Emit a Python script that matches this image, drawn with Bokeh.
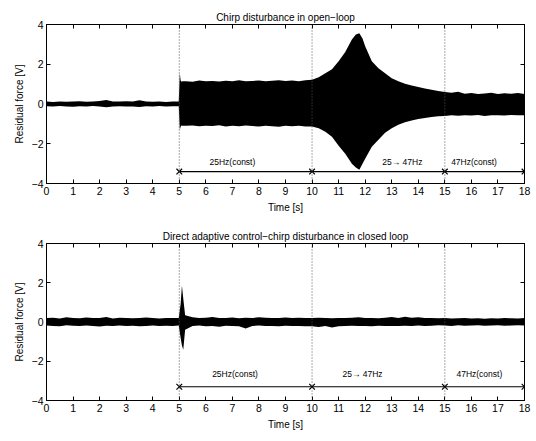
from bokeh.plotting import figure
from bokeh.models import FixedTicker, LinearAxis, Span, Title, Range1d
from bokeh.layouts import column
from bokeh.embed import file_html
from bokeh.resources import INLINE
from bokeh.core.properties import value

FONT = "Liberation Sans"

# ---------------- data ----------------
x_ticks = list(range(0, 19))
y_ticks = [-4, -2, 0, 2, 4]
y_tick_text = {-4: "\u22124", -2: "\u22122", 0: "0", 2: "2", 4: "4"}
phase_bounds = [5, 10, 15, 18]
phase_labels = ["25Hz(const)", "25\u2192 47Hz", "47Hz(const)"]

titles = ["Chirp disturbance in open\u2212loop",
          "Direct adaptive control\u2212chirp disturbance in closed loop"]

# open loop: envelope of the residual force (upper / lower)
t_open = [0.0, 0.25, 0.5, 0.75, 1.0, 1.25, 1.5, 1.75, 2.0, 2.25, 2.5, 2.75, 3.0, 3.25, 3.5, 3.75, 4.0, 4.25, 4.5, 4.75,
          4.98, 5.02, 5.05, 5.08, 5.12,
          5.25, 5.5, 5.75, 6.0, 6.25, 6.5, 6.75, 7.0, 7.25, 7.5, 7.75, 8.0, 8.25, 8.5, 8.75, 9.0, 9.25, 9.5, 9.75,
          10.0, 10.25, 10.5, 10.75, 11.0, 11.25, 11.5, 11.65, 11.78, 11.9, 12.0, 12.25, 12.5, 12.75, 13.0, 13.25, 13.5, 13.75,
          14.0, 14.25, 14.5, 14.75, 15.0, 15.25, 15.5, 15.75, 16.0, 16.25, 16.5, 16.75, 17.0, 17.25, 17.5, 17.75, 18.0]
up_open = [0.12, 0.10, 0.13, 0.11, 0.12, 0.14, 0.11, 0.13, 0.15, 0.20, 0.13, 0.12, 0.14, 0.12, 0.19, 0.13, 0.11, 0.12, 0.10, 0.12,
           0.12, 1.55, 1.20, 1.12, 1.15,
           1.15, 1.12, 1.18, 1.14, 1.16, 1.13, 1.17, 1.15, 1.19, 1.14, 1.16, 1.18, 1.15, 1.17, 1.20, 1.16, 1.18, 1.15, 1.19,
           1.22, 1.35, 1.55, 1.75, 2.15, 2.62, 3.25, 3.50, 3.56, 3.30, 2.90, 2.15, 1.80, 1.55, 1.30, 1.15, 1.02, 0.93,
           0.85, 0.78, 0.72, 0.66, 0.60, 0.56, 0.62, 0.52, 0.55, 0.50, 0.53, 0.57, 0.50, 0.54, 0.51, 0.55, 0.50]
lo_open = [-0.11, -0.13, -0.10, -0.12, -0.14, -0.11, -0.12, -0.10, -0.13, -0.16, -0.12, -0.11, -0.13, -0.12, -0.15, -0.11, -0.12, -0.10, -0.12, -0.11,
           -0.11, -1.30, -1.15, -1.08, -1.10,
           -1.10, -1.08, -1.12, -1.09, -1.11, -1.07, -1.13, -1.10, -1.12, -1.08, -1.11, -1.13, -1.10, -1.12, -1.14, -1.10, -1.12, -1.09, -1.13,
           -1.13, -1.22, -1.40, -1.65, -2.10, -2.50, -3.00, -3.20, -3.31, -3.00, -2.75, -2.15, -1.80, -1.45, -1.22, -1.05, -0.92, -0.83,
           -0.76, -0.70, -0.66, -0.62, -0.60, -0.57, -0.59, -0.56, -0.58, -0.55, -0.60, -0.57, -0.56, -0.58, -0.55, -0.57, -0.56]

# closed loop
t_closed = [0.0, 0.25, 0.5, 0.75, 1.0, 1.25, 1.5, 1.75, 2.0, 2.25, 2.5, 2.75, 3.0, 3.25, 3.5, 3.75, 4.0, 4.25, 4.5, 4.75,
            4.98, 5.05, 5.1, 5.15, 5.22,
            5.5, 5.75, 6.0, 6.25, 6.5, 6.75, 7.0, 7.25, 7.5, 7.75, 8.0, 8.25, 8.5, 8.75, 9.0, 9.25, 9.5, 9.75,
            10.0, 10.25, 10.5, 10.75, 11.0, 11.25, 11.5, 11.75, 12.0, 12.25, 12.5, 12.75, 13.0, 13.25, 13.5, 13.75,
            14.0, 14.25, 14.5, 14.75, 15.0, 15.25, 15.5, 15.75, 16.0, 16.25, 16.5, 16.75, 17.0, 17.25, 17.5, 17.75, 18.0]
up_closed = [0.20, 0.22, 0.18, 0.24, 0.20, 0.19, 0.23, 0.21, 0.20, 0.25, 0.18, 0.22, 0.20, 0.19, 0.21, 0.23, 0.20, 0.18, 0.21, 0.20,
             0.20, 0.90, 1.86, 1.20, 0.35,
             0.24, 0.20, 0.22, 0.25, 0.20, 0.21, 0.23, 0.19, 0.22, 0.20, 0.24, 0.22, 0.20, 0.21, 0.23, 0.20, 0.22, 0.21,
             0.20, 0.22, 0.20, 0.19, 0.21, 0.20, 0.22, 0.24, 0.20, 0.21, 0.19, 0.22, 0.25, 0.21, 0.27, 0.22,
             0.24, 0.20, 0.21, 0.19, 0.20, 0.18, 0.19, 0.20, 0.18, 0.19, 0.17, 0.19, 0.18, 0.20, 0.19, 0.18, 0.20]
lo_closed = [-0.18, -0.20, -0.22, -0.17, -0.19, -0.21, -0.18, -0.20, -0.23, -0.19, -0.20, -0.18, -0.21, -0.19, -0.22, -0.20, -0.18, -0.21, -0.19, -0.20,
             -0.18, -0.80, -1.20, -1.42, -0.40,
             -0.20, -0.18, -0.22, -0.20, -0.24, -0.19, -0.21, -0.22, -0.33, -0.20, -0.18, -0.21, -0.20, -0.22, -0.19, -0.21, -0.20, -0.22,
             -0.22, -0.25, -0.20, -0.28, -0.22, -0.20, -0.19, -0.21, -0.20, -0.22, -0.19, -0.20, -0.21, -0.20, -0.19, -0.21,
             -0.18, -0.20, -0.19, -0.17, -0.18, -0.20, -0.17, -0.19, -0.18, -0.17, -0.19, -0.18, -0.17, -0.19, -0.18, -0.17, -0.18]

label_x_open = [7.0, 13.4, 16.1]
label_x_closed = [7.1, 11.9, 16.3]
label_y_open = -2.9
label_y_closed = -2.65
marker_y_open = -3.4
marker_y_closed = -3.3


def style_axis(ax, show_labels):
    ax.major_tick_in = 4
    ax.major_tick_out = 0
    ax.minor_tick_in = 0
    ax.minor_tick_out = 0
    ax.axis_line_color = "black"
    ax.major_tick_line_color = "black"
    ax.major_label_text_font = FONT
    ax.major_label_text_color = "black"
    ax.axis_label_text_font = FONT
    ax.axis_label_text_font_style = "normal"
    ax.axis_label_text_font_size = "10px"
    ax.axis_label_text_color = "black"
    if show_labels:
        ax.major_label_text_font_size = "10.5px"
        ax.major_label_standoff = 3
        ax.axis_label_standoff = 4
    else:
        ax.major_label_standoff = 0
        ax.major_label_text_font_size = "1px"
        ax.major_label_overrides = {t: "" for t in ax.ticker.ticks}


def make(title, t, up, lo, lx, ly, my, frame_h, top, bottom):
    p = figure(frame_width=478, frame_height=frame_h,
               x_range=Range1d(0, 18), y_range=Range1d(-4, 4),
               x_axis_type=None, y_axis_type=None,
               output_backend="svg", toolbar_location=None,
               min_border_left=46, min_border_right=10,
               min_border_top=top, min_border_bottom=bottom)
    p.outline_line_color = "black"
    p.outline_line_alpha = 1.0
    p.xgrid.visible = False
    p.ygrid.visible = False

    xb = LinearAxis(ticker=FixedTicker(ticks=x_ticks), axis_label="Time [s]")
    style_axis(xb, True)
    p.add_layout(xb, "below")
    yl = LinearAxis(ticker=FixedTicker(ticks=y_ticks), axis_label="Residual force [V]",
                    major_label_overrides=y_tick_text)
    style_axis(yl, True)
    p.add_layout(yl, "left")
    xt = LinearAxis(ticker=FixedTicker(ticks=x_ticks))
    style_axis(xt, False)
    p.add_layout(xt, "above")
    yr = LinearAxis(ticker=FixedTicker(ticks=y_ticks))
    style_axis(yr, False)
    p.add_layout(yr, "right")

    p.add_layout(Title(text=title, align="center", text_font=FONT, text_font_size="10px",
                       text_font_style="normal", text_color="black", standoff=4), "above")

    p.varea(x=t, y1=lo, y2=up, fill_color="black")

    for b in phase_bounds[:-1]:
        p.add_layout(Span(location=b, dimension="height", line_color="#555555",
                          line_dash="1 2", line_width=1))

    p.line(x=[phase_bounds[0], phase_bounds[-1]], y=[my, my], line_color="black", line_width=1.2)
    p.scatter(x=phase_bounds, y=[my] * len(phase_bounds), marker="x", size=8,
              line_color="black", line_width=1.2)
    p.text(x=lx, y=[ly] * len(lx), text=phase_labels, text_font=value(FONT),
           text_font_size="8.5px", text_align="center", text_baseline="middle",
           text_color="black")
    return p


p1 = make(titles[0], t_open, up_open, lo_open, label_x_open, label_y_open, marker_y_open, 159, 24, 32)
p2 = make(titles[1], t_closed, up_closed, lo_closed, label_x_closed, label_y_closed, marker_y_closed, 157, 28, 38)

layout = column(p1, p2, spacing=0)
open("out.html", "w").write(file_html(layout, INLINE))
